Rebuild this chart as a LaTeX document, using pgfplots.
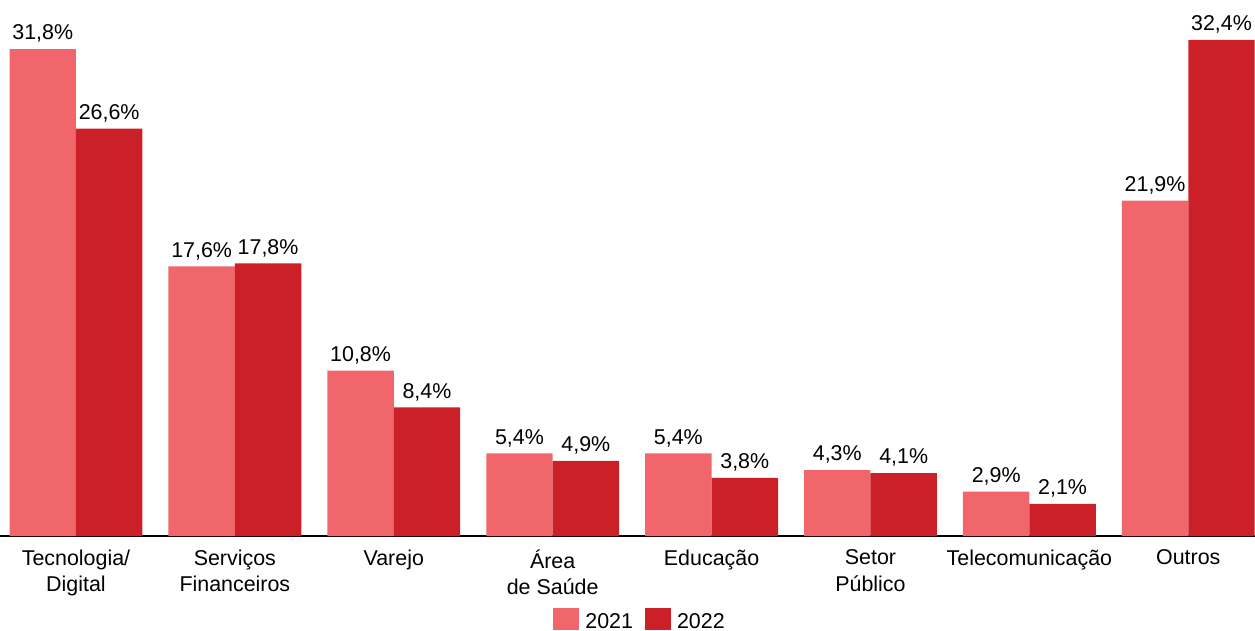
\documentclass[border=0pt]{standalone}
\usepackage{fontspec}
\setmainfont{Liberation Sans}
\usepackage{pgfplots}
\pgfplotsset{compat=1.18}
\definecolor{cA}{HTML}{F0666A}
\definecolor{cB}{HTML}{CC2029}
\begin{document}
\begin{tikzpicture}
\begin{axis}[
  name=ax,
  at={(0,0)}, anchor=south west,
  scale only axis,
  width=1255bp, height=536bp,
  xmin=-0.478, xmax=7.42,
  ymin=0, ymax=35.0,
  enlargelimits=false,
  clip=false,
  axis x line=bottom,
  axis y line=none,
  x axis line style={-, line width=1.6bp, black},
  xtick={0,...,7},
  xticklabels={{Tecnologia/\\Digital},{Serviços\\Financeiros},{Varejo},{Área\\de Saúde},{Educação},{Setor\\Público},{Telecomunicação},{Outros}},
  major tick length=0pt,
  xtick style={draw=none},
  xticklabel style={font=\fontsize{21.5}{27}\selectfont, align=center, anchor=north, yshift=-10bp},
  ybar=0pt,
  bar width=0.418,
  nodes near coords={\pgfmathprintnumber[fixed,fixed zerofill,precision=1,use comma,assume math mode=true]{\pgfplotspointmeta}\%},
  every node near coord/.append style={font=\fontsize{21.5}{24}\selectfont, black, anchor=south, yshift=3bp},
  legend style={draw=none, fill=none, at={(0.51,-0.157)}, anchor=center, legend columns=2, font=\fontsize{21.5}{24}\selectfont,
    /tikz/every odd column/.append style={column sep=4bp},
    /tikz/every even column/.append style={column sep=10bp}},
  legend image code/.code={\fill[#1] (0bp,-8bp) rectangle (26bp,14bp);},
]
\addplot[fill=cA, draw=none, bar shift=-0.209] coordinates {(0,31.8) (1,17.6) (2,10.8) (3,5.4) (4,5.4) (5,4.3) (6,2.9) (7,21.9)};
\addplot[fill=cB, draw=none, bar shift=0.209] coordinates {(0,26.6) (1,17.8) (2,8.4) (3,4.9) (4,3.8) (5,4.1) (6,2.1) (7,32.4)};
\legend{2021,2022}
\end{axis}
\pgfresetboundingbox
\path (0,-95bp) rectangle (1255bp,536bp);
\end{tikzpicture}
\end{document}
